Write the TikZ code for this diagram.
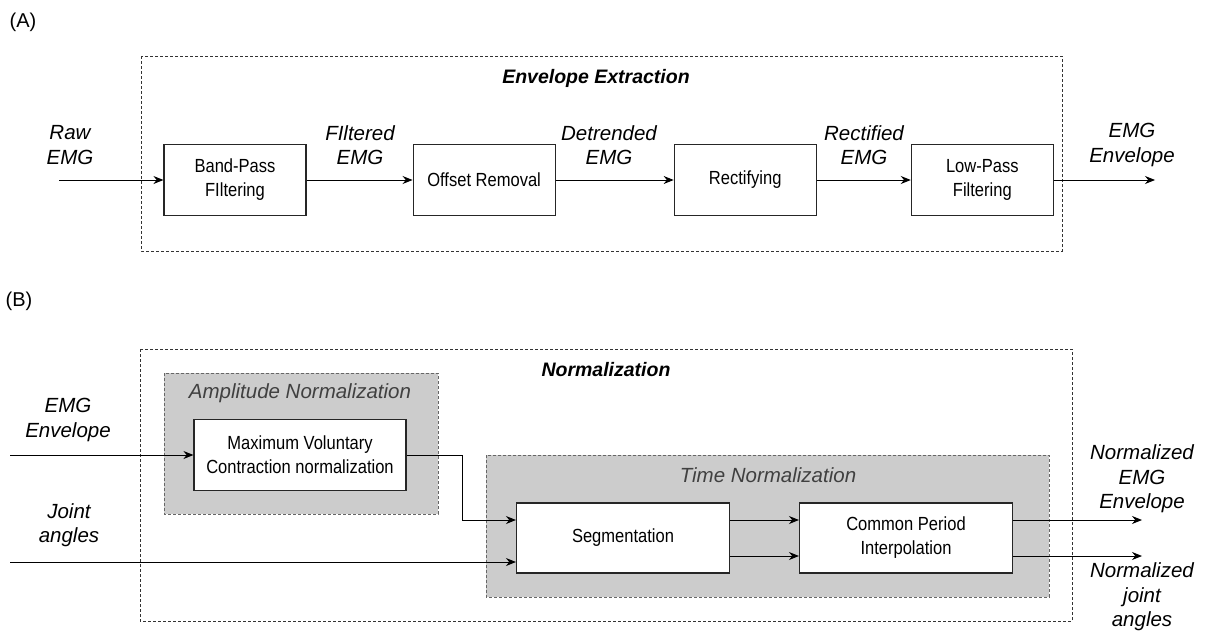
\documentclass[tikz,border=0pt]{standalone}
\usepackage{fontspec}
\setmainfont{Liberation Sans}
\newfontfamily\stagefont[FakeStretch=0.87]{Liberation Sans}
\usetikzlibrary{arrows.meta, positioning}

\begin{document}
\begin{tikzpicture}[x=1pt, y=-1pt, >={Stealth[length=10pt,width=8pt]}, line width=1pt,
    stage/.style={draw=black!85, line width=1.1pt, fill=white, minimum width=142pt, minimum height=71pt,
        align=center, inner sep=2pt, font=\stagefont\fontsize{19}{24}\selectfont},
    sig/.style={align=center, font=\itshape\fontsize{20.5}{24.5}\selectfont},
    group/.style={draw=black!80, dash pattern=on 3pt off 2pt, line width=0.9pt},
    subgroup/.style={group, fill=black!20, draw=black!60},
    title/.style={font=\bfseries\itshape\fontsize{19.5}{23}\selectfont},
    subtitle/.style={text=black!75, font=\itshape\fontsize{20.5}{24}\selectfont},
    panel/.style={font=\fontsize{20}{24}\selectfont}]

    \fill[white] (0,0) rectangle (1207,632);
    \useasboundingbox (0,0) rectangle (1207,632);

    % (A) envelope extraction
    \node[panel] (pa) at (23,22) {(A)};
    \draw[group] (141,56) rectangle (1062,251);
    \node[title] (extr) at (596,78) {Envelope Extraction};

    \node[stage] (bp) at (235,180) {Band-Pass\\FIltering};
    \node[stage, right=106pt of bp]  (off)  {Offset Removal};
    \node[stage, right=118pt of off] (rect) {Rectifying};
    \node[stage, right=94pt of rect] (lp)   {Low-Pass\\Filtering};

    \coordinate (rawin) at (59,180);
    \coordinate (envout) at (1155,180);

    \node[sig] (lraw)  at (70,145)   {Raw\\EMG};
    \node[sig] (lfilt) at (360,145)  {FIltered\\EMG};
    \node[sig] (ldet)  at (609,145)  {Detrended\\EMG};
    \node[sig] (lrect) at (864,145)  {Rectified\\EMG};
    \node[sig] (lenv)  at (1132,145) {EMG\\Envelope};

    \path[->]
    (rawin) edge (bp)
    (bp)    edge (off)
    (off)   edge (rect)
    (rect)  edge (lp)
    (lp)    edge (envout);

    % (B) normalization
    \node[panel] (pb) at (19,301) {(B)};
    \draw[group] (140,349) rectangle (1072,621);
    \node[title] (norm) at (606,370) {Normalization};

    \draw[subgroup] (164,373) rectangle (438,514);
    \node[subtitle] (amp) at (300,393) {Amplitude Normalization};
    \draw[subgroup] (486,455) rectangle (1049,597);
    \node[subtitle] (time) at (768,475) {Time Normalization};

    \node[stage, minimum width=212pt] (mvc) at (300,455) {Maximum Voluntary\\Contraction normalization};
    \node[stage, minimum width=213pt, minimum height=70pt] (seg) at (623,538) {Segmentation};
    \node[stage, minimum width=213pt, minimum height=70pt] (cpi) at (906,538) {Common Period\\Interpolation};

    \coordinate (emgin) at (10,455);
    \coordinate (jointin) at (10,562);
    \coordinate (nemg) at (1142,520);
    \coordinate (njoint) at (1142,556);

    \node[sig] (lemg)   at (68,420)   {EMG\\Envelope};
    \node[sig] (ljoint) at (69,525)   {Joint\\angles};
    \node[sig] (lnemg)  at (1142,479) {Normalized\\EMG\\Envelope};
    \node[sig] (lnjnt)  at (1142,597) {Normalized\\joint\\angles};

    \draw[->] (emgin) -- (mvc.west);
    \draw[->] (mvc.east) -- ++(56,0) |- ([yshift=18pt]seg.west);
    \draw[->] (jointin) -- ([yshift=-24pt]seg.west);
    \draw[->] ([yshift=18pt]seg.east) -- ([yshift=18pt]cpi.west);
    \draw[->] ([yshift=-18pt]seg.east) -- ([yshift=-18pt]cpi.west);
    \draw[->] ([yshift=18pt]cpi.east) -- (nemg);
    \draw[->] ([yshift=-18pt]cpi.east) -- (njoint);
\end{tikzpicture}
\end{document}
